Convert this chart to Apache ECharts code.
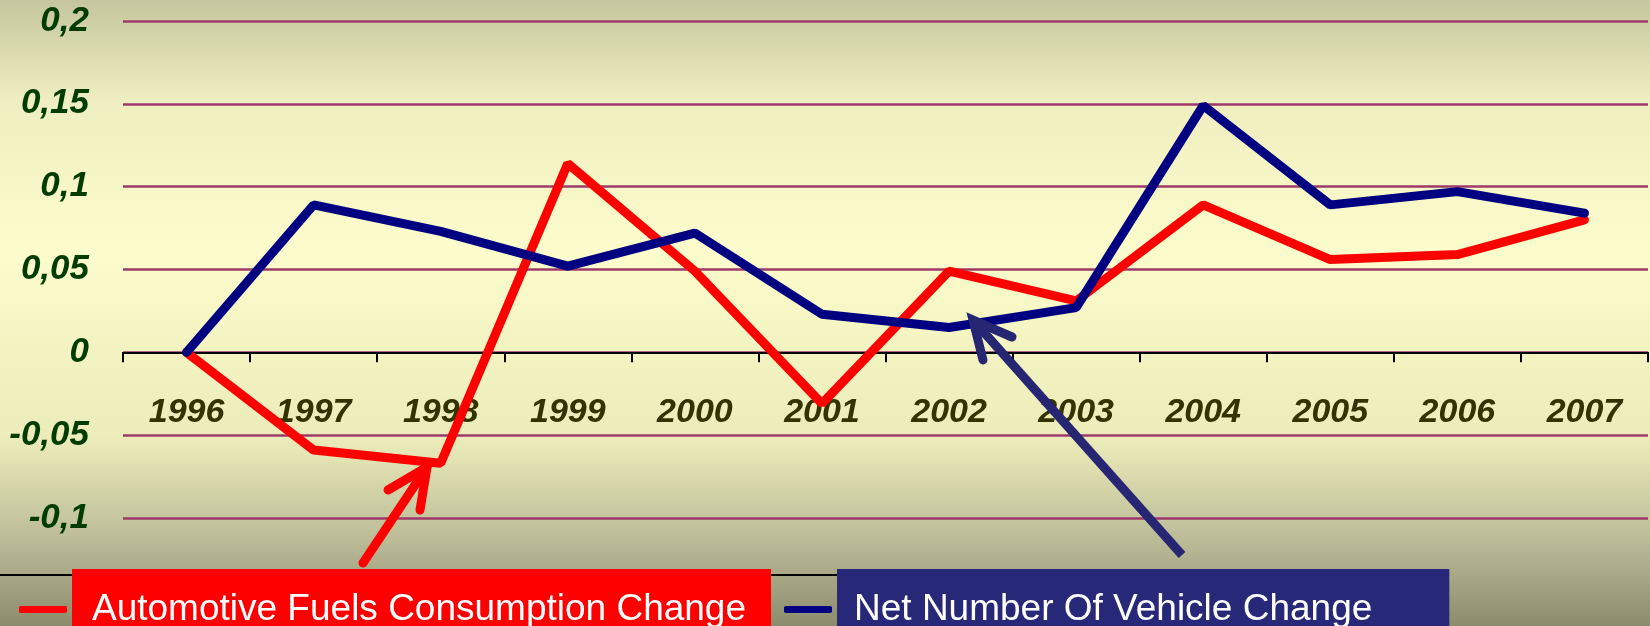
<!DOCTYPE html>
<html>
<head>
<meta charset="utf-8">
<script src="https://cdn.jsdelivr.net/npm/echarts@6/dist/echarts.min.js"></script>
<style>
  html, body { margin: 0; padding: 0; }
  #chart { width: 1650px; height: 626px; }
</style>
</head>
<body>
<div id="chart"></div>
<script>
const years = ['1996', '1997', '1998', '1999', '2000', '2001', '2002', '2003', '2004', '2005', '2006', '2007'];
const fuelsChange = [0, -0.059, -0.067, 0.114, 0.049, -0.031, 0.049, 0.031, 0.089, 0.056, 0.059, 0.080];
const vehicleChange = [0, 0.089, 0.073, 0.052, 0.072, 0.023, 0.015, 0.027, 0.149, 0.089, 0.097, 0.084];
const seriesNames = ['Automotive Fuels Consumption Change', 'Net Number Of Vehicle Change'];

const chart = echarts.init(document.getElementById('chart'));

chart.setOption({
  animation: false,
  backgroundColor: {
    type: 'linear', x: 0, y: 0, x2: 0, y2: 1,
    colorStops: [
      { offset: 0, color: '#c6c69e' },
      { offset: 0.16, color: '#eeeec0' },
      { offset: 0.4, color: '#fcfccc' },
      { offset: 0.7, color: '#ececba' },
      { offset: 0.87, color: '#b9b996' },
      { offset: 1, color: '#8c8c6e' }
    ]
  },
  grid: { left: 123, right: 2, top: 21, bottom: 108 },
  legend: {
    left: 19,
    top: 569,
    padding: 0,
    selectedMode: false,
    icon: 'roundRect',
    itemWidth: 48,
    itemHeight: 7,
    itemGap: 13,
    textStyle: {
      fontFamily: 'Liberation Sans',
      fontSize: 37,
      lineHeight: 37,
      color: '#ffffff'
    },
    data: [
      { name: seriesNames[0], textStyle: { backgroundColor: '#ff0000', padding: [14, 25, 30, 20] } },
      { name: seriesNames[1], textStyle: { backgroundColor: '#282878', padding: [14, 77, 30, 17] } }
    ]
  },
  xAxis: {
    type: 'category',
    data: years,
    boundaryGap: true,
    axisLine: { onZero: true, lineStyle: { color: '#000', width: 2 } },
    axisTick: { show: true, length: 10, lineStyle: { color: '#000', width: 2 } },
    axisLabel: {
      margin: -122,
      color: '#333300',
      fontFamily: 'Liberation Sans',
      fontWeight: 'bold',
      fontStyle: 'italic',
      fontSize: 34
    }
  },
  yAxis: {
    type: 'value',
    min: -0.1,
    max: 0.2,
    interval: 0.05,
    axisLine: { show: false },
    axisTick: { show: false },
    splitLine: { lineStyle: { color: '#9e3a6a', width: 2.5 } },
    axisLabel: {
      margin: 34,
      color: '#003c00',
      fontFamily: 'Liberation Sans',
      fontWeight: 'bold',
      fontStyle: 'italic',
      fontSize: 35,
      padding: [8, 0, 0, 0],
      formatter: function (v) {
        return String(Number(v.toFixed(2))).replace('.', ',');
      }
    }
  },
  series: [
    {
      name: seriesNames[0],
      type: 'line',
      data: fuelsChange,
      symbol: 'none',
      color: '#ff0000',
      lineStyle: { width: 9, cap: 'round' }
    },
    {
      name: seriesNames[1],
      type: 'line',
      data: vehicleChange,
      symbol: 'none',
      color: '#000080',
      lineStyle: { width: 9, cap: 'round' }
    }
  ],
  graphic: [
    // frame line behind the legend
    { type: 'line', z: 1, shape: { x1: 0, y1: 575, x2: 837, y2: 575 }, style: { stroke: '#000', lineWidth: 2 } },
    // red arrow
    { type: 'polyline', z: 100, shape: { points: [[363, 563], [427, 467]] }, style: { stroke: '#ff0000', lineWidth: 9, lineCap: 'round', fill: null } },
    { type: 'polyline', z: 100, shape: { points: [[388, 490], [427, 467], [420, 510]] }, style: { stroke: '#ff0000', lineWidth: 9, lineCap: 'round', lineJoin: 'miter', fill: null } },
    // blue arrow
    { type: 'polyline', z: 100, shape: { points: [[1182, 555], [973, 320]] }, style: { stroke: '#262673', lineWidth: 9, lineCap: 'butt', fill: null } },
    { type: 'polyline', z: 100, shape: { points: [[1012, 337], [973, 320], [983, 360]] }, style: { stroke: '#262673', lineWidth: 9, lineCap: 'round', lineJoin: 'miter', fill: null } }
  ]
});
</script>
</body>
</html>
